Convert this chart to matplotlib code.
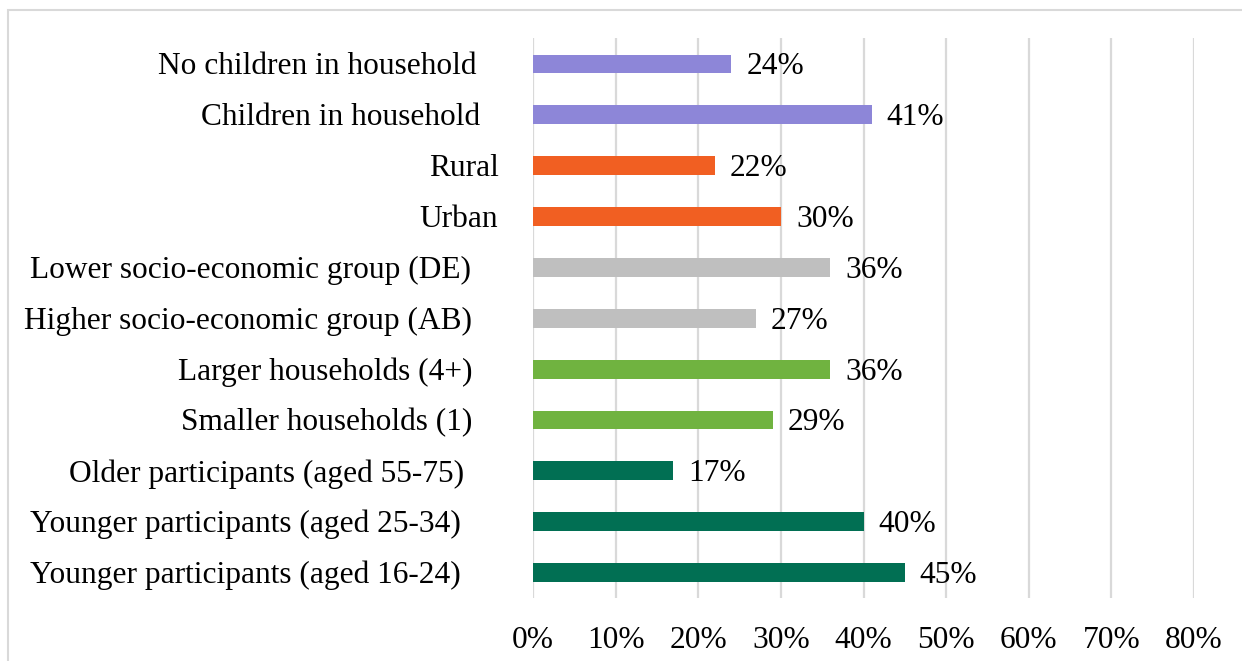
import matplotlib
matplotlib.use("Agg")
import matplotlib.pyplot as plt
from matplotlib.patches import Rectangle
from matplotlib.ticker import FuncFormatter

categories = [
    "Younger participants (aged 16-24)",
    "Younger participants (aged 25-34)",
    "Older participants (aged 55-75)",
    "Smaller households (1)",
    "Larger households (4+)",
    "Higher socio-economic group (AB)",
    "Lower socio-economic group (DE)",
    "Urban",
    "Rural",
    "Children in household",
    "No children in household",
]
values = [45, 40, 17, 29, 36, 27, 36, 30, 22, 41, 24]
colors = ["#016F53", "#016F53", "#016F53", "#70B340", "#70B340",
          "#BFBFBF", "#BFBFBF", "#F15F22", "#F15F22", "#8D86D8", "#8D86D8"]
x_ticks = [0, 10, 20, 30, 40, 50, 60, 70, 80]

# label right-edge offsets (pixels) from the axis origin, mimicking the original layout
label_offsets = [-72, -72, -69, -61, -60, -61, -62, -35, -34, -53, -56]

plt.rcParams["font.family"] = ["Liberation Serif", "DejaVu Serif"]
FS = 22.6

W, H = 1242, 661
fig = plt.figure(figsize=(W / 100, H / 100), dpi=100)
ax = fig.add_axes([533 / W, 1 - 598 / H, (1194 - 533) / W, (598 - 38.5) / H])

ypos = list(range(len(categories)))
ax.barh(ypos, values, height=0.37, color=colors, zorder=3)

ax.set_xlim(0, 80)
ax.set_ylim(-0.5, len(categories) - 0.5)
ax.set_xticks(x_ticks)
ax.xaxis.set_major_formatter(FuncFormatter(lambda v, p: f"{v:.0f}%"))
ax.tick_params(axis="x", length=0, pad=20, labelsize=FS)
ax.set_yticks([])
ax.grid(axis="x", color="#D9D9D9", linewidth=1.6, zorder=0)
for s in ax.spines.values():
    s.set_visible(False)

for i, (cat, v) in enumerate(zip(categories, values)):
    ax.annotate(cat, xy=(0, i), xycoords=("axes fraction", "data"),
                xytext=(label_offsets[i], -3), textcoords="offset pixels",
                ha="right", va="center", fontsize=FS)
    ax.annotate(f"{v}%", xy=(v, i), xycoords="data",
                xytext=(15, -3), textcoords="offset pixels",
                ha="left", va="center", fontsize=FS)

# outer chart-area border (light gray)
fig.patches.append(Rectangle((8 / W, -0.01), 1.02, 1 - 10 / H + 0.01,
                             transform=fig.transFigure, fill=False,
                             edgecolor="#D9D9D9", linewidth=1.5))

fig.savefig("out.png", dpi=100)
